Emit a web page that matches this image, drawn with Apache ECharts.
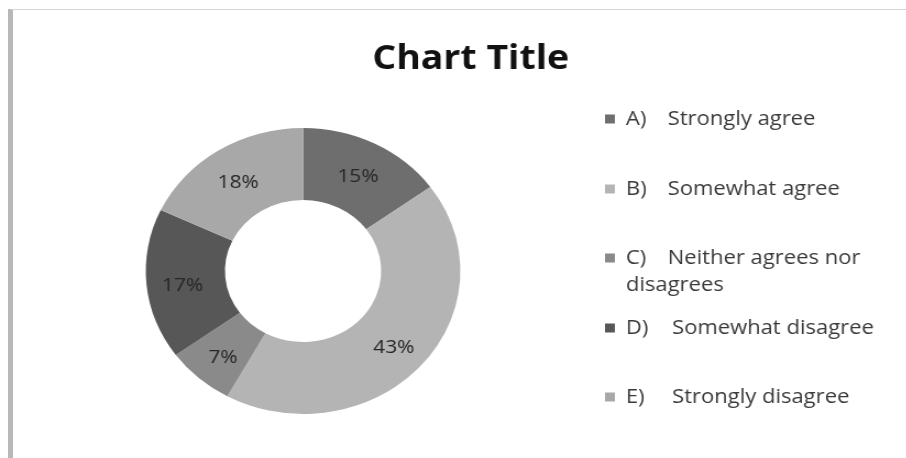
<!DOCTYPE html>
<html>
<head>
<meta charset="utf-8">
<title>Chart Title</title>
<script src="https://cdn.jsdelivr.net/npm/echarts@6/dist/echarts.min.js"></script>
<style>
  html, body { margin: 0; padding: 0; background: #ffffff; overflow: hidden; }
  #page { position: relative; width: 906px; height: 458px; background: #ffffff; }
  #frame {
    position: absolute; left: 8px; top: 9px; right: 0; bottom: 0;
    border-left: 5px solid #b8b8b8; border-top: 1px solid #d6d6d6;
  }
  /* the plot is drawn on a narrower canvas and widened 1.1x */
  #chart {
    position: absolute; left: 0; top: 0; width: 824px; height: 458px;
    transform: scaleX(1.1); transform-origin: 0 0;
  }
</style>
</head>
<body>
<div id="page">
  <div id="frame"></div>
  <div id="chart"></div>
</div>
<script>
// Survey answers and their shares (percent)
const categories = [
  'A) Strongly agree',
  'B) Somewhat agree',
  'C) Neither agrees nor disagrees',
  'D) Somewhat disagree',
  'E) Strongly disagree'
];
const shares = [15, 43, 7, 17, 18];
const sliceColors = ['#6e6e6e', '#b4b4b4', '#8a8a8a', '#575757', '#a8a8a8'];

// vertical position (centre of the marker) of each legend row
const legendRows = [119, 189, 258, 328, 397];
// gap from the letter to the answer text
const legendKeyWidths = [38, 38, 38, 42, 42];

const FONT = '"Open Sans", "Noto Sans", sans-serif';
const LINE = 27;
const LEGEND_SIZE = 20;
const TEXT_COLOR = '#3a3a3a';

const chart = echarts.init(document.getElementById('chart'), null, { renderer: 'canvas' });

function splitName(name) {
  const i = name.indexOf(')');
  return [name.slice(0, i + 1), name.slice(i + 1).trim()];
}

const legends = categories.map((name, idx) => {
  const [key, text] = splitName(name);
  const wrapped = idx === 2 ? text.replace(' nor ', ' nor\n') : text;
  const lines = wrapped.split('\n');
  const extraLines = lines.length - 1;
  const label = lines.map((ln, li) => li === 0 ? '{k|' + key + '}{v|' + ln + '}' : '{v|' + ln + '}').join('\n');
  const base = { fontFamily: FONT, fontSize: LEGEND_SIZE, color: TEXT_COLOR, lineHeight: LINE };
  return {
    data: [name],
    orient: 'vertical',
    left: 550,
    top: legendRows[idx] - LINE / 2 - extraLines * LINE,
    padding: 0,
    itemWidth: 9,
    itemHeight: 9,
    icon: 'rect',
    selectedMode: false,
    formatter: () => label,
    textStyle: Object.assign({}, base, {
      padding: [extraLines * LINE, 0, 0, 5],
      rich: {
        k: Object.assign({ width: legendKeyWidths[idx] }, base),
        v: base
      }
    })
  };
});

chart.setOption({
  animation: false,
  backgroundColor: 'transparent',
  title: {
    text: 'Chart Title',
    left: 423,
    textAlign: 'center',
    top: 37,
    textStyle: { fontFamily: FONT, fontSize: 34, fontWeight: 'bold', color: '#111111' }
  },
  legend: legends,
  series: [{
    type: 'pie',
    center: [275.5, 271],
    radius: [71, 143],
    startAngle: 90,
    clockwise: true,
    avoidLabelOverlap: false,
    label: {
      show: true,
      position: 'inside',
      formatter: '{c}%',
      offset: [0, 4],
      fontFamily: FONT,
      fontSize: 19,
      color: '#262626'
    },
    labelLine: { show: false },
    emphasis: { disabled: true },
    data: categories.map((name, i) => ({
      name: name,
      value: shares[i],
      itemStyle: { color: sliceColors[i] }
    }))
  }]
});
</script>
</body>
</html>
